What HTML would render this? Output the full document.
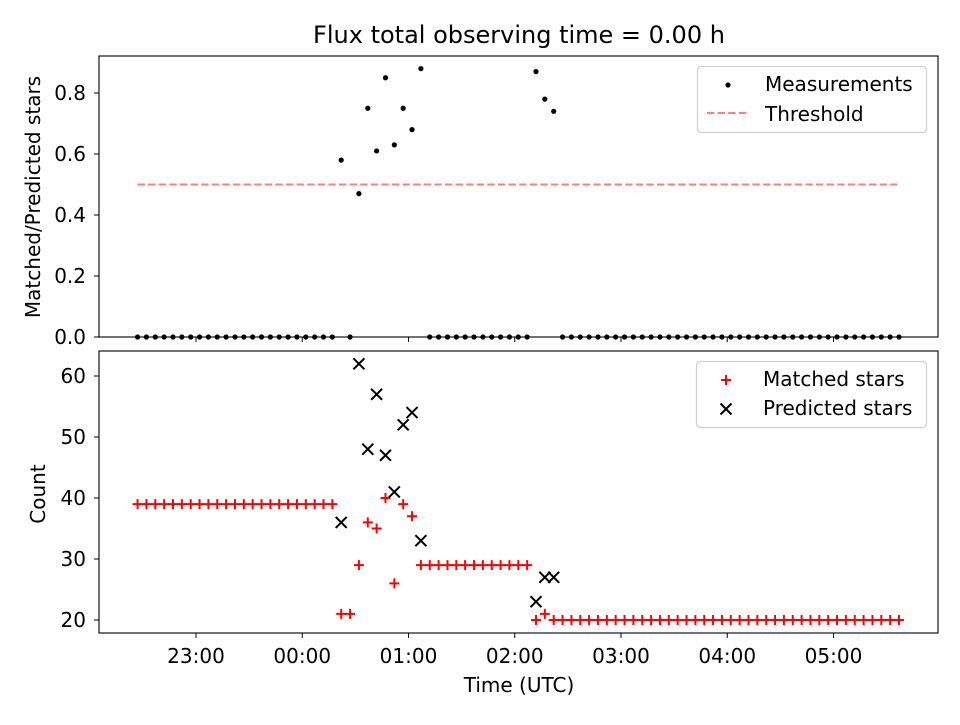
<!DOCTYPE html>
<html><head><meta charset="utf-8"><style>
body{margin:0;background:#fff}
svg{font-family:"DejaVu Sans","Liberation Sans",sans-serif}
</style></head><body>
<svg id="c" width="960" height="720" xmlns="http://www.w3.org/2000/svg"></svg>
<script>
const tickLabels=["23:00","00:00","01:00","02:00","03:00","04:00","05:00"];
const tickMinutes=[60,120,180,240,300,360,420];
const startMinute=27, stepMinutes=5;
const ratio=[0,0,0,0,0,0,0,0,0,0,0,0,0,0,0,0,0,0,0,0,0,0,0,
0.58,0,0.47,0.75,0.61,0.85,0.63,0.75,0.68,0.88,
0,0,0,0,0,0,0,0,0,0,0,0,
0.87,0.78,0.74,
0,0,0,0,0,0,0,0,0,0,0,0,0,0,0,0,0,0,0,0,0,0,0,0,0,0,0,0,0,0,0,0,0,0,0,0,0,0,0];
const matched=[39,39,39,39,39,39,39,39,39,39,39,39,39,39,39,39,39,39,39,39,39,39,39,
21,21,29,36,35,40,26,39,37,
29,29,29,29,29,29,29,29,29,29,29,29,29,
20,21,
20,20,20,20,20,20,20,20,20,20,20,20,20,20,20,20,20,20,20,20,20,20,20,20,20,20,20,20,20,20,20,20,20,20,20,20,20,20,20,20];
const predicted=[null,null,null,null,null,null,null,null,null,null,null,null,null,null,null,null,null,null,null,null,null,null,null,
36,null,62,48,57,47,41,52,54,33,
null,null,null,null,null,null,null,null,null,null,null,null,
23,27,27,
null,null,null,null,null,null,null,null,null,null,null,null,null,null,null,null,null,null,null,null,null,null,null,null,null,null,null,null,null,null,null,null,null,null,null,null,null,null,null];
const threshold=0.5;
const topTicks=[0,0.2,0.4,0.6,0.8];
const botTicks=[20,30,40,50,60];

const svg=document.getElementById('c');const NS='http://www.w3.org/2000/svg';
function mk(t,a,p){const e=document.createElementNS(NS,t);for(const k in a)e.setAttribute(k,a[k]);(p||svg).appendChild(e);return e;}
const X=m=>196+(m-60)*1.7708;
const Yt=v=>337-v*305;
const Yb=v=>620-(v-20)*6.1;
const tOf=i=>startMinute+i*stepMinutes;
const FS=20;

let e=mk('text',{x:519,y:43,'font-size':24,'text-anchor':'middle'});e.textContent='Flux total observing time = 0.00 h';



const topG=mk('g',{});


topTicks.forEach(v=>{mk('line',{x1:94,x2:99,y1:Yt(v),y2:Yt(v),stroke:'#000'},topG);
const t=mk('text',{x:86,y:Yt(v)+7,'font-size':FS,'text-anchor':'end'},topG);t.textContent=v.toFixed(1);

});
tickMinutes.forEach(m=>mk('line',{x1:X(m),x2:X(m),y1:337,y2:342,stroke:'#000'},topG));
e=mk('text',{x:40,y:197,'font-size':FS,'text-anchor':'middle',transform:'rotate(-90 40 197)'},topG);e.textContent='Matched/Predicted stars';


let th=mk('line',{x1:X(tOf(0)),x2:X(tOf(ratio.length-1)),y1:Yt(threshold),y2:Yt(threshold),stroke:'#ff0000','stroke-opacity':0.5,'stroke-width':2,'stroke-dasharray':'7.4,3.2'},topG);


ratio.forEach((v,i)=>{const c=mk('circle',{cx:X(tOf(i)),cy:Yt(v),r:2.6,fill:'#000'},topG);

});
mk('rect',{x:99,y:56,width:839,height:281,fill:'none',stroke:'#000','stroke-width':1.1},topG);
const lg=mk('g',{},topG);


mk('rect',{x:697.5,y:66.5,width:229,height:66,rx:4,fill:'#fff',stroke:'#d0d0d0','stroke-width':1.2},lg);
mk('circle',{cx:728,cy:85,r:2.6,fill:'#000'},lg);
e=mk('text',{x:765,y:91,'font-size':FS},lg);e.textContent='Measurements';
mk('line',{x1:707,x2:748,y1:113,y2:113,stroke:'#ff0000','stroke-opacity':0.5,'stroke-width':2,'stroke-dasharray':'7.4,3.2'},lg);
e=mk('text',{x:765,y:121,'font-size':FS},lg);e.textContent='Threshold';

const botG=mk('g',{});


botTicks.forEach(v=>{mk('line',{x1:94,x2:99,y1:Yb(v),y2:Yb(v),stroke:'#000'},botG);
const t=mk('text',{x:86,y:Yb(v)+7,'font-size':FS,'text-anchor':'end'},botG);t.textContent=v;

});
tickMinutes.forEach((m,k)=>{mk('line',{x1:X(m),x2:X(m),y1:633,y2:638,stroke:'#000'},botG);
const t=mk('text',{x:X(m),y:663,'font-size':FS,'text-anchor':'middle'},botG);t.textContent=tickLabels[k];

});
e=mk('text',{x:519,y:692,'font-size':FS,'text-anchor':'middle'},botG);e.textContent='Time (UTC)';


e=mk('text',{x:45,y:494,'font-size':FS,'text-anchor':'middle',transform:'rotate(-90 45 494)'},botG);e.textContent='Count';


function plus(x,y,g){mk('path',{d:`M${x-5},${y}H${x+5}M${x},${y-5}V${y+5}`,stroke:'#f00','stroke-width':2},g);}
function cross(x,y,g){mk('path',{d:`M${x-5.5},${y-5.5}L${x+5.5},${y+5.5}M${x-5.5},${y+5.5}L${x+5.5},${y-5.5}`,stroke:'#000','stroke-width':2},g);}
matched.forEach((v,i)=>{const g=mk('g',{},botG);


plus(X(tOf(i)),Yb(v),g);});
predicted.forEach((v,i)=>{if(v==null)return;const g=mk('g',{},botG);


cross(X(tOf(i)),Yb(v),g);});
mk('rect',{x:99,y:351,width:839,height:282,fill:'none',stroke:'#000','stroke-width':1.1},botG);
const lb=mk('g',{},botG);


mk('rect',{x:696.5,y:361.5,width:230,height:66,rx:4,fill:'#fff',stroke:'#d0d0d0','stroke-width':1.2},lb);
plus(726,380,lb);
e=mk('text',{x:763,y:386,'font-size':FS},lb);e.textContent='Matched stars';
cross(726,409,lb);
e=mk('text',{x:763,y:415,'font-size':FS},lb);e.textContent='Predicted stars';
</script>
</body></html>
